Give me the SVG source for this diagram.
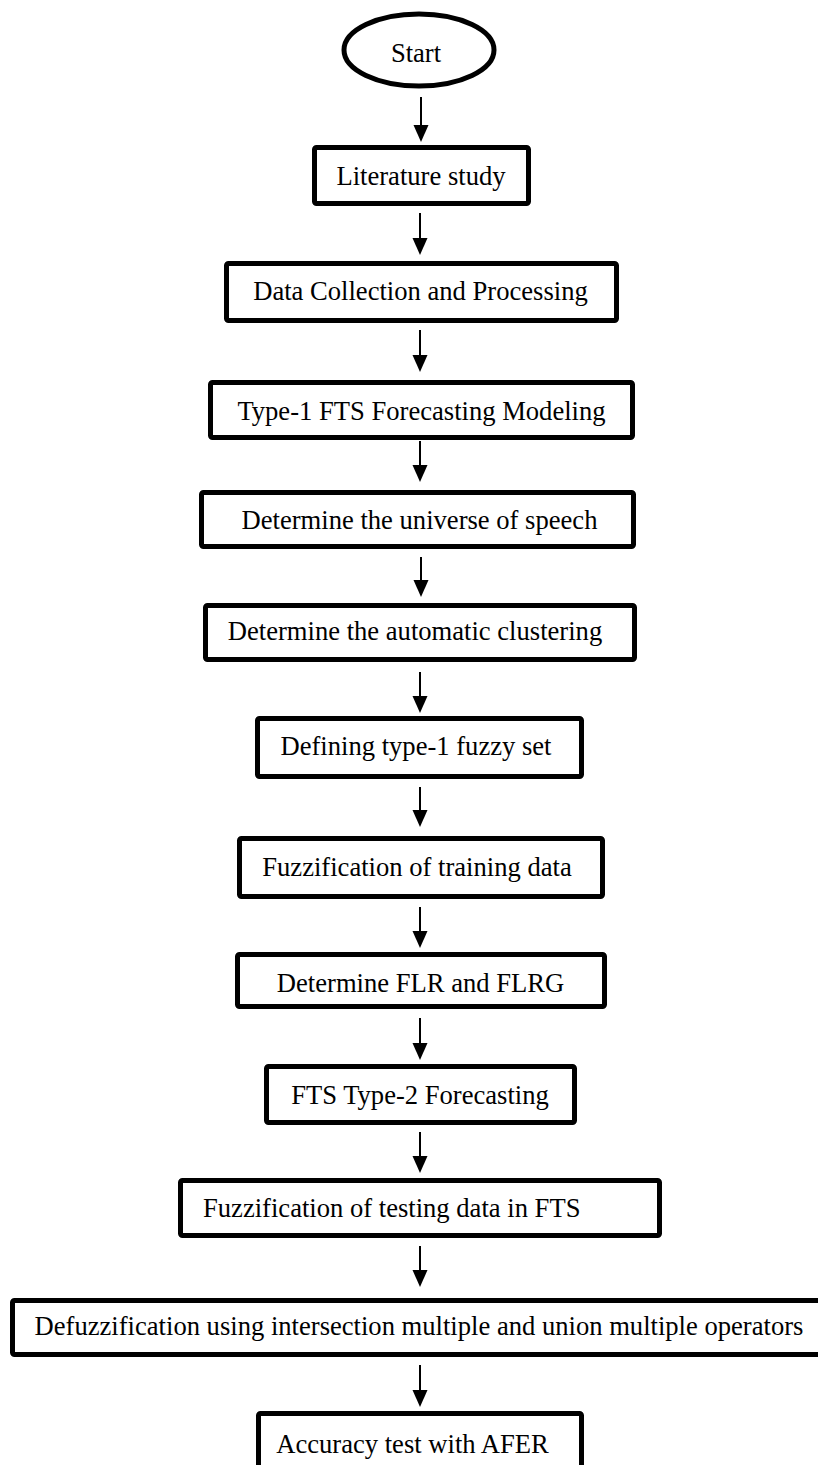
<svg xmlns="http://www.w3.org/2000/svg" width="818" height="1465" viewBox="0 0 818 1465">
<style>
.box{fill:#fff;stroke:#000;stroke-width:5}
.t{font-family:"Liberation Serif","Times New Roman",serif;font-size:26.6px;fill:#000;text-anchor:middle}
.ln{stroke:#000;stroke-width:2;fill:none}
.hd{fill:#000}
</style>
<rect width="818" height="1465" fill="#fff"/>
<g id="connectors">
<g><line class="ln" x1="421" y1="97" x2="421" y2="128"/><polygon class="hd" points="413.5,125 428.5,125 421,142"/></g>
<g><line class="ln" x1="420" y1="213" x2="420" y2="242"/><polygon class="hd" points="412.5,238 427.5,238 420,255"/></g>
<g><line class="ln" x1="420" y1="330" x2="420" y2="359"/><polygon class="hd" points="412.5,355 427.5,355 420,372"/></g>
<g><line class="ln" x1="420" y1="441" x2="420" y2="469"/><polygon class="hd" points="412.5,465 427.5,465 420,482"/></g>
<g><line class="ln" x1="421" y1="557" x2="421" y2="584"/><polygon class="hd" points="413.5,580 428.5,580 421,597"/></g>
<g><line class="ln" x1="420" y1="672" x2="420" y2="700"/><polygon class="hd" points="412.5,696 427.5,696 420,713"/></g>
<g><line class="ln" x1="420" y1="787" x2="420" y2="814"/><polygon class="hd" points="412.5,810 427.5,810 420,827"/></g>
<g><line class="ln" x1="420" y1="907" x2="420" y2="935"/><polygon class="hd" points="412.5,931 427.5,931 420,948"/></g>
<g><line class="ln" x1="420" y1="1018" x2="420" y2="1047"/><polygon class="hd" points="412.5,1043 427.5,1043 420,1060"/></g>
<g><line class="ln" x1="420" y1="1132" x2="420" y2="1160"/><polygon class="hd" points="412.5,1156 427.5,1156 420,1173"/></g>
<g><line class="ln" x1="420" y1="1246" x2="420" y2="1274"/><polygon class="hd" points="412.5,1270 427.5,1270 420,1287"/></g>
<g><line class="ln" x1="420" y1="1365" x2="420" y2="1394"/><polygon class="hd" points="412.5,1390 427.5,1390 420,1407"/></g>
</g>
<g id="start"><ellipse class="box" cx="419" cy="50" rx="75" ry="36"/><text class="t" x="416" y="62">Start</text></g>
<g id="n1"><rect class="box" x="314.5" y="147.5" width="214" height="56" rx="2"/><text class="t" x="421" y="185">Literature study</text></g>
<g id="n2"><rect class="box" x="226.5" y="263.5" width="390" height="57" rx="2"/><text class="t" x="420.5" y="300">Data Collection and Processing</text></g>
<g id="n3"><rect class="box" x="210.5" y="382.5" width="422" height="55" rx="2"/><text class="t" x="421.5" y="420">Type-1 FTS Forecasting Modeling</text></g>
<g id="n4"><rect class="box" x="201.5" y="492.5" width="432" height="54" rx="2"/><text class="t" x="419.5" y="529">Determine the universe of speech</text></g>
<g id="n5"><rect class="box" x="205.5" y="605.5" width="429" height="54" rx="2"/><text class="t" x="415" y="640">Determine the automatic clustering</text></g>
<g id="n6"><rect class="box" x="257.5" y="718.5" width="324" height="58" rx="2"/><text class="t" x="416" y="755">Defining type-1 fuzzy set</text></g>
<g id="n7"><rect class="box" x="239.5" y="838.5" width="363" height="58" rx="2"/><text class="t" x="417" y="876">Fuzzification of training data</text></g>
<g id="n8"><rect class="box" x="237.5" y="954.5" width="367" height="52" rx="2"/><text class="t" x="420.5" y="992">Determine FLR and FLRG</text></g>
<g id="n9"><rect class="box" x="266.5" y="1066.5" width="308" height="56" rx="2"/><text class="t" x="420" y="1104">FTS Type-2 Forecasting</text></g>
<g id="n10"><rect class="box" x="180.5" y="1180.5" width="479" height="55" rx="2"/><text class="t" x="203" y="1217" style="text-anchor:start">Fuzzification of testing data in FTS</text></g>
<g id="n11"><rect class="box" x="12.5" y="1300.5" width="815" height="54" rx="2"/><text class="t" x="419" y="1335">Defuzzification using intersection multiple and union multiple operators</text></g>
<g id="n12"><rect class="box" x="258.5" y="1413.5" width="323" height="60" rx="2"/><text class="t" x="412.5" y="1453">Accuracy test with AFER</text></g>
</svg>
